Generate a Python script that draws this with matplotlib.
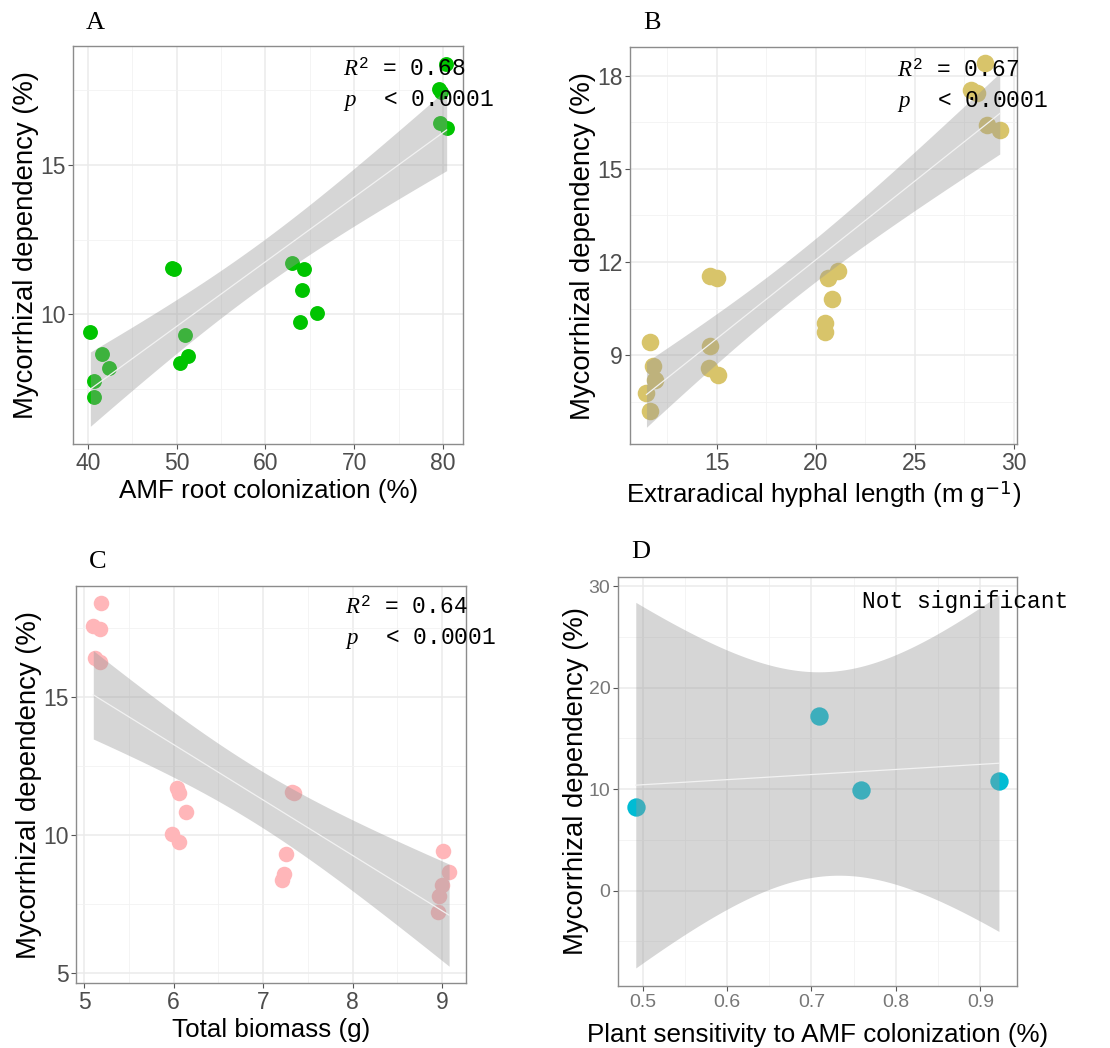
import numpy as np
import matplotlib
matplotlib.use("Agg")
import matplotlib.pyplot as plt
from matplotlib.ticker import MultipleLocator

plt.rcParams['mathtext.fontset'] = 'custom'
plt.rcParams['mathtext.rm'] = 'Liberation Mono'
plt.rcParams['mathtext.it'] = 'Liberation Serif:italic'

# mycorrhizal dependency (%), same 20 samples in panels A-C
md = [9.41, 8.65, 8.20, 7.77, 7.21,
      11.55, 11.50, 9.30, 8.60, 8.37,
      11.70, 11.50, 10.82, 10.04, 9.74,
      18.40, 17.55, 17.45, 16.40, 16.25]

amf_col = [40.3, 41.6, 42.4, 40.75, 40.75,
           49.5, 49.7, 51.0, 51.3, 50.4,
           63.0, 64.4, 64.1, 65.8, 63.95,
           80.35, 79.5, 79.8, 79.6, 80.4]

hyphal_len = [11.63, 11.80, 11.88, 11.46, 11.63,
              14.66, 15.00, 14.68, 14.61, 15.05,
              21.12, 20.61, 20.85, 20.50, 20.50,
              28.58, 27.86, 28.16, 28.68, 29.30]

biomass = [9.01, 9.08, 9.00, 8.97, 8.96,
           7.32, 7.34, 7.26, 7.23, 7.21,
           6.04, 6.06, 6.14, 5.98, 6.06,
           5.19, 5.10, 5.17, 5.12, 5.17]

# panel D: group means
sensitivity = [0.492, 0.709, 0.759, 0.922]
md_mean = [8.25, 17.2, 9.9, 10.8]

# t quantiles (0.975) for the 95% CI band
t975 = {18: 2.1009, 2: 4.3027}


def smooth(ax, x, y, t):
    # lm fit + confidence band, drawn over the points like geom_smooth
    x = np.asarray(x)
    y = np.asarray(y)
    n = len(x)
    b1, b0 = np.polyfit(x, y, 1)
    resid = y - (b0 + b1 * x)
    s = np.sqrt(np.sum(resid ** 2) / (n - 2))
    sxx = np.sum((x - x.mean()) ** 2)
    xs = np.linspace(x.min(), x.max(), 200)
    yh = b0 + b1 * xs
    se = s * np.sqrt(1 / n + (xs - x.mean()) ** 2 / sxx)
    ax.fill_between(xs, yh - t * se, yh + t * se, color='#999999', alpha=0.4,
                    lw=0, zorder=3)
    ax.plot(xs, yh, color='#f2f2f2', lw=0.9, zorder=4)


def style(ax, xlim, ylim, xmaj, ymaj, tick_fs=16.5, tick_col='#4d4d4d'):
    ax.set_xlim(xlim)
    ax.set_ylim(ylim)
    ax.xaxis.set_major_locator(MultipleLocator(xmaj))
    ax.xaxis.set_minor_locator(MultipleLocator(xmaj / 2))
    ax.yaxis.set_major_locator(MultipleLocator(ymaj))
    ax.yaxis.set_minor_locator(MultipleLocator(ymaj / 2))
    ax.grid(which='major', color='#ebebeb', lw=1.1, zorder=0)
    ax.grid(which='minor', color='#f2f2f2', lw=0.6, zorder=0)
    ax.set_axisbelow(True)
    for sp in ax.spines.values():
        sp.set_color('#8c8c8c')
        sp.set_linewidth(1.0)
    ax.tick_params(which='major', length=3.5, width=0.8, color='#555555',
                   labelsize=tick_fs, labelcolor=tick_col, pad=2)
    ax.tick_params(which='minor', length=0)
    for lab in ax.get_xticklabels() + ax.get_yticklabels():
        lab.set_family('Liberation Sans')


fig = plt.figure(figsize=(11.1, 10.48), dpi=100)
axA = fig.add_axes([0.0658, 0.5763, 0.3514, 0.3798])
axB = fig.add_axes([0.5676, 0.5763, 0.3486, 0.3788])
axC = fig.add_axes([0.0685, 0.0620, 0.3514, 0.3788])
axD = fig.add_axes([0.5568, 0.0592, 0.3595, 0.3903])

xlab_font = dict(family='Liberation Sans', fontsize=18.7, color='black')
ylab_font = dict(family='Liberation Sans', fontsize=19.8, color='black')
mono = dict(family='Liberation Mono', fontsize=16.5, color='black')
ylab = 'Mycorrhizal dependency (%)'

# A
axA.scatter(amf_col, md, s=115, color='#00c400', lw=0, zorder=2)
smooth(axA, amf_col, md, t975[18])
style(axA, (38.35, 82.25), (5.64, 18.99), 10, 5)
axA.set_xlabel('AMF root colonization (%)', labelpad=3, **xlab_font)
axA.set_ylabel(ylab, labelpad=0.5, **ylab_font)

# B
axB.scatter(hyphal_len, md, s=160, color='#d8c46a', lw=0, zorder=2)
smooth(axB, hyphal_len, md, t975[18])
style(axB, (10.63, 30.17), (6.14, 18.92), 5, 3)
axB.set_xlabel('Extraradical hyphal length (m g$^{\\mathsf{-1}}$)', labelpad=3,
               **xlab_font)
axB.set_ylabel(ylab, labelpad=0.5, **ylab_font)

# C
axC.scatter(biomass, md, s=125, color='#ffb6b9', lw=0, zorder=2)
smooth(axC, biomass, md, t975[18])
style(axC, (4.907, 9.27), (4.64, 19.0), 1, 5)
axC.set_xlabel('Total biomass (g)', labelpad=3, **xlab_font)
axC.set_ylabel(ylab, labelpad=0.5, **ylab_font)

# D
axD.scatter(sensitivity, md_mean, s=175, color='#00bcd4', lw=0, zorder=2)
smooth(axD, sensitivity, md_mean, t975[2])
style(axD, (0.471, 0.9435), (-9.41, 30.92), 0.1, 10, tick_fs=14,
      tick_col='#777777')
axD.set_xlabel('Plant sensitivity to AMF colonization (%)', labelpad=9,
               **xlab_font)
axD.set_ylabel(ylab, labelpad=0, **ylab_font)

# stats text
for ax, r2, x0, y1, y2 in [(axA, '0.68', 0.692, 0.94, 0.864),
                           (axB, '0.67', 0.69, 0.94, 0.864),
                           (axC, '0.64', 0.69, 0.945, 0.869)]:
    ax.text(x0, y1, '$\\mathit{R}^{2}$ = ' + r2, transform=ax.transAxes,
            va='center', ha='left', clip_on=False, zorder=6, **mono)
    ax.text(x0, y2, '$\\mathit{p}$  < 0.0001', transform=ax.transAxes,
            va='center', ha='left', clip_on=False, zorder=6, **mono)
axD.text(0.611, 0.941, 'Not significant', transform=axD.transAxes,
         va='center', ha='left', clip_on=False, zorder=6, **mono)

# panel letters
for letter, px, py in [('A', 95, 23), ('B', 652, 23),
                       ('C', 98, 562), ('D', 641, 552)]:
    fig.text(px / 1110, 1 - py / 1048, letter, ha='center', va='center',
             family='Liberation Serif', fontsize=19)

fig.savefig('out.png', dpi=100)
